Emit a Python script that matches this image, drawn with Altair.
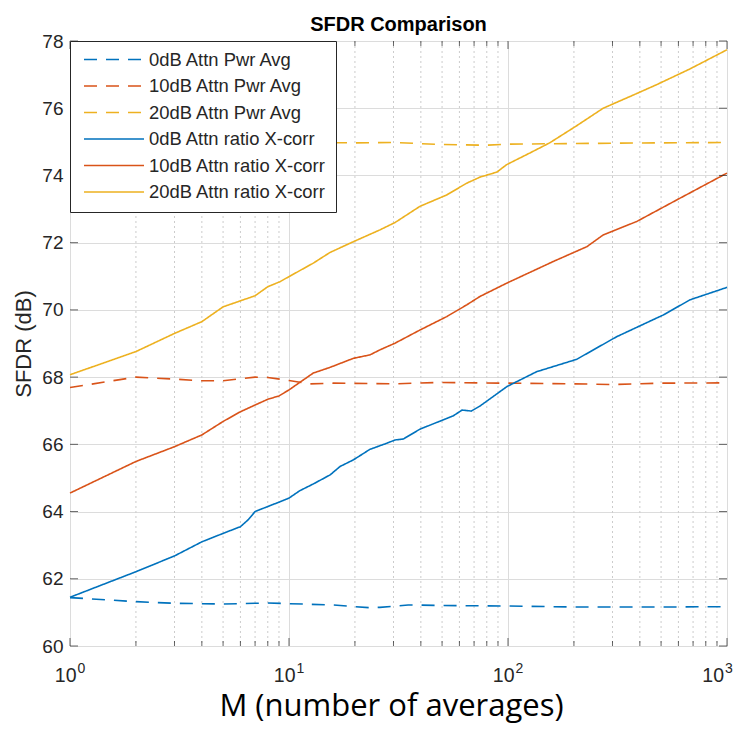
import altair as alt
import pandas as pd

# ---------------- data ----------------
chart_title = ["SFDR Comparison"]
series_names = ["0dB Attn Pwr Avg", "10dB Attn Pwr Avg", "20dB Attn Pwr Avg",
                "0dB Attn ratio X-corr", "10dB Attn ratio X-corr", "20dB Attn ratio X-corr"]
series_colors = ["#0072BD", "#D95319", "#EDB120", "#0072BD", "#D95319", "#EDB120"]
series_dashes = [[13, 9], [13, 9], [13, 9], [1, 0], [1, 0], [1, 0]]

m_pwr0 = [1, 2, 3, 5, 7, 8, 10, 15.9, 20, 23.4, 26, 35, 60, 99, 200, 500, 1000]
v_pwr0 = [61.44, 61.32, 61.27, 61.25, 61.27, 61.28, 61.26, 61.22, 61.17, 61.14, 61.15,
          61.22, 61.20, 61.19, 61.16, 61.16, 61.17]

m_pwr10 = [1, 2, 3, 4, 5, 7, 8, 10, 12.5, 15.9, 30, 47, 100, 200, 300, 500, 1000]
v_pwr10 = [67.69, 68.0, 67.94, 67.89, 67.89, 68.0, 67.99, 67.90, 67.80, 67.82, 67.80,
           67.84, 67.82, 67.80, 67.78, 67.82, 67.83]

m_pwr20 = [1, 2, 5, 10, 20, 30, 50, 80, 100, 200, 500, 1000]
v_pwr20 = [75.0, 75.0, 75.0, 74.98, 74.97, 74.98, 74.92, 74.90, 74.93, 74.95, 74.97, 74.98]

m_xc0 = [1, 2, 3, 4, 5, 6, 6.5, 7, 8, 9, 10, 11.2, 12.9, 15.4, 17.1, 19.7, 23.4, 27.9,
         30.5, 33.3, 39.6, 47.2, 56.3, 61.7, 68, 74.5, 99, 135, 206, 313, 512, 678, 1000]
v_xc0 = [61.45, 62.21, 62.68, 63.10, 63.35, 63.55, 63.75, 64.0, 64.15, 64.28, 64.40, 64.62,
         64.82, 65.09, 65.34, 65.54, 65.85, 66.03, 66.13, 66.16, 66.45, 66.65, 66.85, 67.02,
         66.99, 67.14, 67.72, 68.16, 68.53, 69.20, 69.85, 70.30, 70.67]

m_xc10 = [1, 2, 3, 4, 5, 6, 7, 8, 9, 10, 12.9, 15.4, 19.7, 23.4, 26, 30.5, 39.6, 52.5,
          64.8, 74.5, 99, 161, 229, 272, 387, 589, 1000]
v_xc10 = [64.55, 65.49, 65.93, 66.28, 66.68, 66.97, 67.17, 67.34, 67.44, 67.62, 68.12,
          68.29, 68.56, 68.66, 68.81, 69.01, 69.40, 69.80, 70.15, 70.40, 70.80, 71.44,
          71.88, 72.23, 72.63, 73.27, 74.07]

m_xc20 = [1, 2, 3, 4, 5, 6, 7, 8, 9.1, 10, 12.9, 15.4, 19.7, 26, 30.5, 39.6, 52.5, 64.8,
          74.5, 89, 98.5, 126, 155, 206, 272, 361, 477, 678, 1000]
v_xc20 = [68.07, 68.76, 69.30, 69.65, 70.09, 70.27, 70.42, 70.69, 70.84, 70.99, 71.39,
          71.71, 72.03, 72.38, 72.60, 73.08, 73.42, 73.77, 73.95, 74.10, 74.32, 74.67,
          74.97, 75.48, 76.0, 76.35, 76.70, 77.17, 77.74]

major_x = [1, 10, 100, 1000]
minor_x = [2, 3, 4, 5, 6, 7, 8, 9, 20, 30, 40, 50, 60, 70, 80, 90,
           200, 300, 400, 500, 600, 700, 800, 900]
y_ticks = [60, 62, 64, 66, 68, 70, 72, 74, 76, 78]
x_label_base = ["10", "10", "10", "10"]
x_label_exp = ["0", "1", "2", "3"]

# ---------------- tables ----------------
all_m = [m_pwr0, m_pwr10, m_pwr20, m_xc0, m_xc10, m_xc20]
all_v = [v_pwr0, v_pwr10, v_pwr20, v_xc0, v_xc10, v_xc20]
rows = []
for name, ms, vs in zip(series_names, all_m, all_v):
    for m, v in zip(ms, vs):
        rows.append({"M": m, "V": v, "series": name})
df = pd.DataFrame(rows)

df_major = pd.DataFrame({"M": major_x, "base": x_label_base, "exp": x_label_exp})
df_minor = pd.DataFrame({"M": minor_x})
df_y = pd.DataFrame({"V": y_ticks})
df_title = pd.DataFrame({"t": chart_title})

W, H = 657, 605
INK = "#262626"
FONT = "Liberation Sans"

xscale = alt.Scale(type="log", domain=[1, 1000], nice=False)
yscale = alt.Scale(domain=[60, 78], nice=False, zero=False)

x_axis = alt.Axis(values=major_x, labels=False, ticks=False, tickSize=0, domain=False,
                  grid=True, gridColor="#dcdcdc", gridWidth=1,
                  title="M (number of averages)", titleFont="Open Sans", titleFontSize=31,
                  titleFontWeight="normal", titleColor="#000000",
                  titleX=321, titleY=69, titleAlign="center", titleBaseline="alphabetic")
y_axis = alt.Axis(values=y_ticks, ticks=False, tickSize=0, domain=False, grid=True,
                  gridColor="#dcdcdc", gridWidth=1, labelFont=FONT, labelFontSize=19,
                  labelColor=INK, labelPadding=7, title="SFDR (dB)", titleFont=FONT,
                  titleFontSize=22, titleFontWeight="normal", titleColor=INK,
                  titleAngle=270, titleX=-47, titleY=H / 2, titleAlign="center",
                  titleBaseline="middle")


def xenc():
    return alt.X("M:Q", scale=xscale, axis=x_axis)


def yenc():
    return alt.Y("V:Q", scale=yscale, axis=y_axis)


legend = alt.Legend(title=None, orient="none", legendX=0, legendY=0, fillColor="white",
                    strokeColor=INK, padding=10, labelFont=FONT, labelFontSize=18.4,
                    labelColor=INK, labelOffset=4, symbolType="stroke", symbolSize=3600,
                    symbolStrokeWidth=1.5, rowPadding=7.5, symbolOffset=3, labelLimit=400,
                    clipHeight=17.2)

minor_grid = alt.Chart(df_minor).mark_rule(strokeDash=[2, 3], color="#cccccc",
                                             strokeWidth=1).encode(x=xenc())

lines = alt.Chart(df).mark_line(strokeWidth=1.6).encode(
    x=xenc(), y=yenc(),
    color=alt.Color("series:N", scale=alt.Scale(domain=series_names, range=series_colors),
                    legend=legend),
    strokeDash=alt.StrokeDash("series:N",
                              scale=alt.Scale(domain=series_names, range=series_dashes),
                              legend=legend),
)

tick_major_b = alt.Chart(df_major).mark_tick(size=8, thickness=1, color=INK).encode(
    x=xenc(), y=alt.value(H - 4))
tick_major_t = alt.Chart(df_major).mark_tick(size=8, thickness=1, color=INK).encode(
    x=xenc(), y=alt.value(4))
tick_minor_b = alt.Chart(df_minor).mark_tick(size=5, thickness=1, color=INK).encode(
    x=xenc(), y=alt.value(H - 2.5))
tick_minor_t = alt.Chart(df_minor).mark_tick(size=5, thickness=1, color=INK).encode(
    x=xenc(), y=alt.value(2.5))
tick_y_l = alt.Chart(df_y).mark_tick(size=8, thickness=1, color=INK).encode(
    y=yenc(), x=alt.value(4))
tick_y_r = alt.Chart(df_y).mark_tick(size=8, thickness=1, color=INK).encode(
    y=yenc(), x=alt.value(W - 4))


def decade_labels(flt, dx_base, dx_exp):
    base = alt.Chart(df_major).transform_filter(flt).mark_text(
        font=FONT, fontSize=19.5, color=INK, align="right", baseline="alphabetic",
        dx=dx_base).encode(x=xenc(), y=alt.value(H + 36), text="base:N")
    exp = alt.Chart(df_major).transform_filter(flt).mark_text(
        font=FONT, fontSize=14, color=INK, align="left", baseline="alphabetic",
        dx=dx_exp).encode(x=xenc(), y=alt.value(H + 27), text="exp:N")
    return [base, exp]


labels_inner = decade_labels(alt.datum.M < 1000, 6.5, 7.5)
labels_last = decade_labels(alt.datum.M >= 1000, -3, -2)

title_txt = alt.Chart(df_title).mark_text(font=FONT, fontSize=20, fontWeight="bold",
                                          color="#000000", align="center",
                                          baseline="alphabetic").encode(
    x=alt.value(W / 2), y=alt.value(-10), text="t:N")

chart = alt.layer(
    minor_grid, lines, tick_major_b, tick_major_t, tick_minor_b, tick_minor_t,
    tick_y_l, tick_y_r, *labels_inner, *labels_last, title_txt
).properties(
    width=W, height=H,
    padding={"left": 62, "top": 33, "right": 7, "bottom": 77},
    autosize=alt.AutoSizeParams(type="none"),
).configure_view(stroke=INK, strokeWidth=1).configure(background="white")

chart.save("out.html", embed_options={"renderer": "svg", "actions": False})
